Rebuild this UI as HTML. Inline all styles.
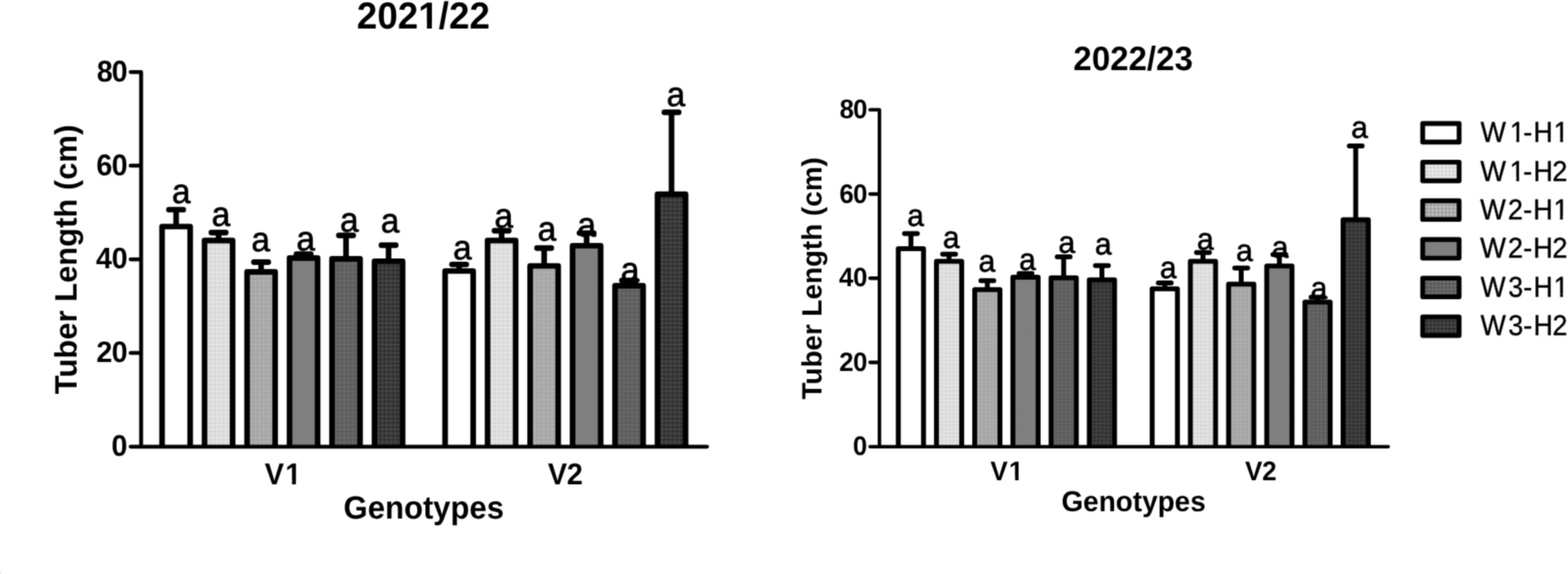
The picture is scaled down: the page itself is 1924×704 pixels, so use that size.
<!DOCTYPE html>
<html lang="en">
<head>
<meta charset="utf-8">
<title>Tuber Length by Genotype</title>
<style>
html,body{margin:0;padding:0;background:#fff;}
body{width:1924px;height:704px;overflow:hidden;}
svg{display:block;}
text{font-family:"Liberation Sans", Arial, Helvetica, sans-serif;fill:#000;text-rendering:geometricPrecision;}
</style>
</head>
<body>
<svg width="1924" height="704" viewBox="0 0 1924 704">
<defs>
<filter id="soft" x="0" y="0" width="1924" height="704" filterUnits="userSpaceOnUse" color-interpolation-filters="sRGB"><feConvolveMatrix order="3" kernelMatrix="0.0400 0.1200 0.0400 0.1200 0.3600 0.1200 0.0400 0.1200 0.0400" divisor="1" edgeMode="duplicate" preserveAlpha="false"/></filter>
<pattern id="p1" width="5.2" height="5.2" patternUnits="userSpaceOnUse"><rect width="5.2" height="5.2" fill="#d6d6d6"/><path d="M0 1.3H5.2M1.3 0V5.2" stroke="#e8e8e8" stroke-width="1.3" fill="none"/></pattern>
<pattern id="p2" width="5.2" height="5.2" patternUnits="userSpaceOnUse"><rect width="5.2" height="5.2" fill="#a4a4a4"/><path d="M0 1.3H5.2M1.3 0V5.2" stroke="#b2b2b2" stroke-width="1.2" fill="none"/></pattern>
<pattern id="p3" width="5.2" height="5.2" patternUnits="userSpaceOnUse"><rect width="5.2" height="5.2" fill="#828282"/><rect width="2.6" height="2.6" fill="#7d7d7d"/><rect x="2.6" y="2.6" width="2.6" height="2.6" fill="#7d7d7d"/></pattern>
<pattern id="p4" width="5.2" height="5.2" patternUnits="userSpaceOnUse"><rect width="5.2" height="5.2" fill="#5a5a5a"/><path d="M0 1.3H5.2M1.3 0V5.2" stroke="#6c6c6c" stroke-width="1.2" fill="none"/></pattern>
<pattern id="p5" width="5.2" height="5.2" patternUnits="userSpaceOnUse"><rect width="5.2" height="5.2" fill="#2e2e2e"/><path d="M0 1.3H5.2M1.3 0V5.2" stroke="#4c4c4c" stroke-width="1.1" fill="none"/></pattern>
<pattern id="q1" width="4.6" height="4.6" patternUnits="userSpaceOnUse" patternTransform="translate(1748,0)"><rect width="4.6" height="4.6" fill="#d1d1d1"/><path d="M0 0.7H4.6M0.7 0V4.6" stroke="#ededed" stroke-width="1.4" fill="none"/></pattern>
<pattern id="q2" width="4.6" height="4.6" patternUnits="userSpaceOnUse" patternTransform="translate(1748,0)"><rect width="4.6" height="4.6" fill="#989898"/><path d="M0 0.7H4.6M0.7 0V4.6" stroke="#c2c2c2" stroke-width="1.4" fill="none"/></pattern>
<pattern id="q4" width="4.6" height="4.6" patternUnits="userSpaceOnUse" patternTransform="translate(1748,0)"><rect width="4.6" height="4.6" fill="#545454"/><path d="M0 0.7H4.6M0.7 0V4.6" stroke="#727272" stroke-width="1.3" fill="none"/></pattern>
<pattern id="q5" width="4.6" height="4.6" patternUnits="userSpaceOnUse" patternTransform="translate(1748,0)"><rect width="4.6" height="4.6" fill="#292929"/><path d="M0 0.7H4.6M0.7 0V4.6" stroke="#4e4e4e" stroke-width="1.2" fill="none"/></pattern>
</defs>
<g filter="url(#soft)">
<rect width="1924" height="704" fill="#fff"/>
<rect x="0" y="700.5" width="1.3" height="3.5" fill="#e6e6e6"/>
<g id="chart-left">
<text transform="translate(437.82,34.54) scale(0.9799,1)" font-size="46.13" font-weight="bold">2021/22</text>
<path transform="translate(437.82,34.54) scale(0.9799,1)" d="M78.65 -6.57H87.78v8.67H78.65zM94.01 -6.57H102.54v8.67H94.01z" fill="#fff"/>
<text transform="translate(93.89,483.48) rotate(-90) scale(0.9961,1)" font-size="38.13" font-weight="bold">Tuber Length (cm)</text>
<text transform="translate(421.58,635.67) scale(0.9675,1)" font-size="39.39" font-weight="bold">Genotypes</text>
<text transform="translate(0,594.00) scale(0.9616,1)" x="337.60 363.91" y="0" font-size="36.96" font-weight="bold">V1</text>
<path transform="translate(0,594.00) scale(0.9616,1)" d="M365.16 -5.33H372.60v7.43H365.16zM377.59 -5.33H384.54v7.43H377.59z" fill="#fff"/>
<text transform="translate(0,594.00) scale(0.9566,1)" x="702.68 727.13" y="0" font-size="36.96" font-weight="bold">V2</text>
<text transform="translate(0,559.03) scale(0.9612,1)" x="142.35" y="0" font-size="36.62" font-weight="bold">0</text>
<text transform="translate(0,444.14) scale(0.9687,1)" x="121.99 141.46" y="0" font-size="36.34" font-weight="bold">20</text>
<text transform="translate(0,329.44) scale(0.9687,1)" x="121.67 141.46" y="0" font-size="36.34" font-weight="bold">40</text>
<text transform="translate(0,215.03) scale(0.9575,1)" x="123.63 143.11" y="0" font-size="36.76" font-weight="bold">60</text>
<text transform="translate(0,99.73) scale(0.9575,1)" x="123.94 143.16" y="0" font-size="36.76" font-weight="bold">80</text>
<path d="M216.10 277.83V257.15M207.30 257.15H224.90" stroke="#000" stroke-width="6.9" stroke-linecap="round" fill="none"/>
<path d="M198.88 547.8V277.83H233.32V547.8" fill="#ffffff" stroke="#000" stroke-width="6.9" stroke-linejoin="round"/>
<text transform="translate(211.06,249.18) scale(0.9796,1)" font-size="41.83" stroke="#000" stroke-width="0.8" stroke-linejoin="round">a</text>
<path d="M268.20 295.06V285.30M259.40 285.30H277.00" stroke="#000" stroke-width="6.9" stroke-linecap="round" fill="none"/>
<path d="M250.97 547.8V295.06H285.43V547.8" fill="url(#p1)" stroke="#000" stroke-width="6.9" stroke-linejoin="round"/>
<text transform="translate(259.86,276.68) scale(0.9796,1)" font-size="41.83" stroke="#000" stroke-width="0.8" stroke-linejoin="round">a</text>
<path d="M320.40 333.55V321.49M311.60 321.49H329.20" stroke="#000" stroke-width="6.9" stroke-linecap="round" fill="none"/>
<path d="M303.17 547.8V333.55H337.62V547.8" fill="url(#p2)" stroke="#000" stroke-width="6.9" stroke-linejoin="round"/>
<text transform="translate(308.56,308.43) scale(0.9796,1)" font-size="41.83" stroke="#000" stroke-width="0.8" stroke-linejoin="round">a</text>
<path d="M372.50 316.55V311.72M363.70 311.72H381.30" stroke="#000" stroke-width="6.9" stroke-linecap="round" fill="none"/>
<path d="M355.27 547.8V316.55H389.73V547.8" fill="url(#p3)" stroke="#000" stroke-width="6.9" stroke-linejoin="round"/>
<text transform="translate(363.86,306.68) scale(0.9796,1)" font-size="41.83" stroke="#000" stroke-width="0.8" stroke-linejoin="round">a</text>
<path d="M424.60 317.47V288.75M415.80 288.75H433.40" stroke="#000" stroke-width="6.9" stroke-linecap="round" fill="none"/>
<path d="M407.38 547.8V317.47H441.83V547.8" fill="url(#p4)" stroke="#000" stroke-width="6.9" stroke-linejoin="round"/>
<text transform="translate(417.31,283.58) scale(0.9796,1)" font-size="41.83" stroke="#000" stroke-width="0.8" stroke-linejoin="round">a</text>
<path d="M476.80 320.34V300.81M468.00 300.81H485.60" stroke="#000" stroke-width="6.9" stroke-linecap="round" fill="none"/>
<path d="M459.57 547.8V320.34H494.03V547.8" fill="url(#p5)" stroke="#000" stroke-width="6.9" stroke-linejoin="round"/>
<text transform="translate(467.31,285.43) scale(0.9796,1)" font-size="41.83" stroke="#000" stroke-width="0.8" stroke-linejoin="round">a</text>
<path d="M563.40 332.40V324.36M554.60 324.36H572.20" stroke="#000" stroke-width="6.9" stroke-linecap="round" fill="none"/>
<path d="M546.17 547.8V332.40H580.62V547.8" fill="#ffffff" stroke="#000" stroke-width="6.9" stroke-linejoin="round"/>
<text transform="translate(556.06,317.93) scale(0.9796,1)" font-size="41.83" stroke="#000" stroke-width="0.8" stroke-linejoin="round">a</text>
<path d="M615.50 295.06V283.00M606.70 283.00H624.30" stroke="#000" stroke-width="6.9" stroke-linecap="round" fill="none"/>
<path d="M598.27 547.8V295.06H632.73V547.8" fill="url(#p1)" stroke="#000" stroke-width="6.9" stroke-linejoin="round"/>
<text transform="translate(606.66,278.58) scale(0.9796,1)" font-size="41.83" stroke="#000" stroke-width="0.8" stroke-linejoin="round">a</text>
<path d="M667.70 326.08V304.25M658.90 304.25H676.50" stroke="#000" stroke-width="6.9" stroke-linecap="round" fill="none"/>
<path d="M650.48 547.8V326.08H684.93V547.8" fill="url(#p2)" stroke="#000" stroke-width="6.9" stroke-linejoin="round"/>
<text transform="translate(659.81,294.78) scale(0.9796,1)" font-size="41.83" stroke="#000" stroke-width="0.8" stroke-linejoin="round">a</text>
<path d="M719.80 301.38V285.87M711.00 285.87H728.60" stroke="#000" stroke-width="6.9" stroke-linecap="round" fill="none"/>
<path d="M702.57 547.8V301.38H737.02V547.8" fill="url(#p3)" stroke="#000" stroke-width="6.9" stroke-linejoin="round"/>
<text transform="translate(708.56,290.43) scale(0.9796,1)" font-size="41.83" stroke="#000" stroke-width="0.8" stroke-linejoin="round">a</text>
<path d="M771.90 350.49V343.89M763.10 343.89H780.70" stroke="#000" stroke-width="6.9" stroke-linecap="round" fill="none"/>
<path d="M754.67 547.8V350.49H789.12V547.8" fill="url(#p4)" stroke="#000" stroke-width="6.9" stroke-linejoin="round"/>
<text transform="translate(761.66,345.28) scale(0.9796,1)" font-size="41.83" stroke="#000" stroke-width="0.8" stroke-linejoin="round">a</text>
<path d="M824.00 238.20V137.68M815.20 137.68H832.80" stroke="#000" stroke-width="6.9" stroke-linecap="round" fill="none"/>
<path d="M806.77 547.8V238.20H841.23V547.8" fill="url(#p5)" stroke="#000" stroke-width="6.9" stroke-linejoin="round"/>
<text transform="translate(817.96,130.43) scale(0.9796,1)" font-size="41.83" stroke="#000" stroke-width="0.8" stroke-linejoin="round">a</text>
<path d="M173.15 88.28V547.8M160.3 547.80H173.15M160.3 432.92H173.15M160.3 318.04H173.15M160.3 203.16H173.15M160.3 88.28H173.15M173.15 547.8H867.6" stroke="#000" stroke-width="4.8" stroke-linecap="round" stroke-linejoin="round" fill="none"/>
</g>
<g id="chart-right" transform="translate(923.468,55.328) scale(0.899)">
<text transform="translate(437.82,34.54) scale(0.9785,1)" font-size="46.13" font-weight="bold">2022/23</text>
<text transform="translate(93.89,483.48) rotate(-90) scale(0.9961,1)" font-size="38.13" font-weight="bold">Tuber Length (cm)</text>
<text transform="translate(421.58,635.67) scale(0.9675,1)" font-size="39.39" font-weight="bold">Genotypes</text>
<text transform="translate(0,594.00) scale(0.9616,1)" x="337.60 363.91" y="0" font-size="36.96" font-weight="bold">V1</text>
<path transform="translate(0,594.00) scale(0.9616,1)" d="M365.16 -5.33H372.60v7.43H365.16zM377.59 -5.33H384.54v7.43H377.59z" fill="#fff"/>
<text transform="translate(0,594.00) scale(0.9566,1)" x="702.68 727.13" y="0" font-size="36.96" font-weight="bold">V2</text>
<text transform="translate(0,559.03) scale(0.9612,1)" x="142.35" y="0" font-size="36.62" font-weight="bold">0</text>
<text transform="translate(0,444.14) scale(0.9687,1)" x="121.99 141.46" y="0" font-size="36.34" font-weight="bold">20</text>
<text transform="translate(0,329.44) scale(0.9687,1)" x="121.67 141.46" y="0" font-size="36.34" font-weight="bold">40</text>
<text transform="translate(0,215.03) scale(0.9575,1)" x="123.63 143.11" y="0" font-size="36.76" font-weight="bold">60</text>
<text transform="translate(0,99.73) scale(0.9575,1)" x="123.94 143.16" y="0" font-size="36.76" font-weight="bold">80</text>
<path d="M216.10 277.83V257.15M207.30 257.15H224.90" stroke="#000" stroke-width="6.7" stroke-linecap="round" fill="none"/>
<path d="M198.88 547.8V277.83H233.32V547.8" fill="#ffffff" stroke="#000" stroke-width="6.7" stroke-linejoin="round"/>
<text transform="translate(211.06,246.28) scale(0.9796,1)" font-size="41.83" stroke="#000" stroke-width="0.8" stroke-linejoin="round">a</text>
<path d="M268.20 295.06V285.30M259.40 285.30H277.00" stroke="#000" stroke-width="6.7" stroke-linecap="round" fill="none"/>
<path d="M250.97 547.8V295.06H285.43V547.8" fill="url(#p1)" stroke="#000" stroke-width="6.7" stroke-linejoin="round"/>
<text transform="translate(259.86,276.68) scale(0.9796,1)" font-size="41.83" stroke="#000" stroke-width="0.8" stroke-linejoin="round">a</text>
<path d="M320.40 333.55V321.49M311.60 321.49H329.20" stroke="#000" stroke-width="6.7" stroke-linecap="round" fill="none"/>
<path d="M303.17 547.8V333.55H337.62V547.8" fill="url(#p2)" stroke="#000" stroke-width="6.7" stroke-linejoin="round"/>
<text transform="translate(308.56,308.43) scale(0.9796,1)" font-size="41.83" stroke="#000" stroke-width="0.8" stroke-linejoin="round">a</text>
<path d="M372.50 316.55V311.72M363.70 311.72H381.30" stroke="#000" stroke-width="6.7" stroke-linecap="round" fill="none"/>
<path d="M355.27 547.8V316.55H389.73V547.8" fill="url(#p3)" stroke="#000" stroke-width="6.7" stroke-linejoin="round"/>
<text transform="translate(363.86,306.68) scale(0.9796,1)" font-size="41.83" stroke="#000" stroke-width="0.8" stroke-linejoin="round">a</text>
<path d="M424.60 317.47V288.75M415.80 288.75H433.40" stroke="#000" stroke-width="6.7" stroke-linecap="round" fill="none"/>
<path d="M407.38 547.8V317.47H441.83V547.8" fill="url(#p4)" stroke="#000" stroke-width="6.7" stroke-linejoin="round"/>
<text transform="translate(417.31,283.58) scale(0.9796,1)" font-size="41.83" stroke="#000" stroke-width="0.8" stroke-linejoin="round">a</text>
<path d="M476.80 320.34V300.81M468.00 300.81H485.60" stroke="#000" stroke-width="6.7" stroke-linecap="round" fill="none"/>
<path d="M459.57 547.8V320.34H494.03V547.8" fill="url(#p5)" stroke="#000" stroke-width="6.7" stroke-linejoin="round"/>
<text transform="translate(467.31,285.43) scale(0.9796,1)" font-size="41.83" stroke="#000" stroke-width="0.8" stroke-linejoin="round">a</text>
<path d="M562.60 332.40V324.36M553.80 324.36H571.40" stroke="#000" stroke-width="6.7" stroke-linecap="round" fill="none"/>
<path d="M545.38 547.8V332.40H579.83V547.8" fill="#ffffff" stroke="#000" stroke-width="6.7" stroke-linejoin="round"/>
<text transform="translate(556.06,317.93) scale(0.9796,1)" font-size="41.83" stroke="#000" stroke-width="0.8" stroke-linejoin="round">a</text>
<path d="M614.70 295.06V283.00M605.90 283.00H623.50" stroke="#000" stroke-width="6.7" stroke-linecap="round" fill="none"/>
<path d="M597.48 547.8V295.06H631.93V547.8" fill="url(#p1)" stroke="#000" stroke-width="6.7" stroke-linejoin="round"/>
<text transform="translate(606.66,278.58) scale(0.9796,1)" font-size="41.83" stroke="#000" stroke-width="0.8" stroke-linejoin="round">a</text>
<path d="M666.90 326.08V304.25M658.10 304.25H675.70" stroke="#000" stroke-width="6.7" stroke-linecap="round" fill="none"/>
<path d="M649.68 547.8V326.08H684.13V547.8" fill="url(#p2)" stroke="#000" stroke-width="6.7" stroke-linejoin="round"/>
<text transform="translate(659.81,294.78) scale(0.9796,1)" font-size="41.83" stroke="#000" stroke-width="0.8" stroke-linejoin="round">a</text>
<path d="M719.00 301.38V285.87M710.20 285.87H727.80" stroke="#000" stroke-width="6.7" stroke-linecap="round" fill="none"/>
<path d="M701.77 547.8V301.38H736.23V547.8" fill="url(#p3)" stroke="#000" stroke-width="6.7" stroke-linejoin="round"/>
<text transform="translate(708.56,290.43) scale(0.9796,1)" font-size="41.83" stroke="#000" stroke-width="0.8" stroke-linejoin="round">a</text>
<path d="M771.10 350.49V343.89M762.30 343.89H779.90" stroke="#000" stroke-width="6.7" stroke-linecap="round" fill="none"/>
<path d="M753.88 547.8V350.49H788.33V547.8" fill="url(#p4)" stroke="#000" stroke-width="6.7" stroke-linejoin="round"/>
<text transform="translate(761.66,345.28) scale(0.9796,1)" font-size="41.83" stroke="#000" stroke-width="0.8" stroke-linejoin="round">a</text>
<path d="M823.20 238.20V137.68M814.40 137.68H832.00" stroke="#000" stroke-width="6.7" stroke-linecap="round" fill="none"/>
<path d="M805.98 547.8V238.20H840.43V547.8" fill="url(#p5)" stroke="#000" stroke-width="6.7" stroke-linejoin="round"/>
<text transform="translate(817.16,126.08) scale(0.9796,1)" font-size="41.83" stroke="#000" stroke-width="0.8" stroke-linejoin="round">a</text>
<path d="M173.15 88.28V547.8M160.3 547.80H173.15M160.3 432.92H173.15M160.3 318.04H173.15M160.3 203.16H173.15M160.3 88.28H173.15M173.15 547.8H867.6" stroke="#000" stroke-width="4.8" stroke-linecap="round" stroke-linejoin="round" fill="none"/>
</g>
<g id="legend">
<rect x="1745.70" y="151.45" width="44.70" height="22.85" fill="#ffffff" stroke="#000" stroke-width="5.9" stroke-linejoin="round"/>
<text transform="translate(0,174.15) scale(0.9334,1)" x="1946.30 1984.85 2002.58 2015.89 2042.44" y="0" font-size="35.25" stroke="#000" stroke-width="0.5" stroke-linejoin="round">W1-H1</text>
<path transform="translate(0,174.15) scale(0.9334,1)" d="M1986.10 -4.43H1993.40v6.78H1986.10zM1997.11 -4.43H2004.05v6.78H1997.11zM2043.69 -4.43H2050.99v6.78H2043.69zM2054.69 -4.43H2061.64v6.78H2054.69z" fill="#fff"/>
<rect x="1745.70" y="198.88" width="44.70" height="22.85" fill="url(#q1)" stroke="#000" stroke-width="5.9" stroke-linejoin="round"/>
<text transform="translate(0,221.58) scale(0.9428,1)" x="1926.67 1964.88 1982.50 1995.60 2020.39" y="0" font-size="35.25" stroke="#000" stroke-width="0.5" stroke-linejoin="round">W1-H2</text>
<path transform="translate(0,221.58) scale(0.9428,1)" d="M1966.13 -4.43H1973.43v6.78H1966.13zM1977.14 -4.43H1984.08v6.78H1977.14z" fill="#fff"/>
<rect x="1745.70" y="246.31" width="44.70" height="22.85" fill="url(#q2)" stroke="#000" stroke-width="5.9" stroke-linejoin="round"/>
<text transform="translate(0,269.01) scale(0.9434,1)" x="1925.34 1961.36 1981.14 1994.23 2020.50" y="0" font-size="35.25" stroke="#000" stroke-width="0.5" stroke-linejoin="round">W2-H1</text>
<path transform="translate(0,269.01) scale(0.9434,1)" d="M2021.75 -4.43H2029.05v6.78H2021.75zM2032.75 -4.43H2039.70v6.78H2032.75z" fill="#fff"/>
<rect x="1745.70" y="293.74" width="44.70" height="22.85" fill="url(#p3)" stroke="#000" stroke-width="5.9" stroke-linejoin="round"/>
<text transform="translate(0,316.44) scale(0.9495,1)" x="1912.91 1948.74 1968.42 1981.38 2006.01" y="0" font-size="35.25" stroke="#000" stroke-width="0.5" stroke-linejoin="round">W2-H2</text>
<rect x="1745.70" y="341.17" width="44.70" height="22.85" fill="url(#q4)" stroke="#000" stroke-width="5.9" stroke-linejoin="round"/>
<text transform="translate(0,363.87) scale(0.9210,1)" x="1972.67 2009.47 2029.57 2043.14 2070.04" y="0" font-size="35.25" stroke="#000" stroke-width="0.5" stroke-linejoin="round">W3-H1</text>
<path transform="translate(0,363.87) scale(0.9210,1)" d="M2071.29 -4.43H2078.59v6.78H2071.29zM2082.30 -4.43H2089.25v6.78H2082.30z" fill="#fff"/>
<rect x="1745.70" y="388.60" width="44.70" height="22.85" fill="url(#q5)" stroke="#000" stroke-width="5.9" stroke-linejoin="round"/>
<text transform="translate(0,411.30) scale(0.9309,1)" x="1951.56 1988.04 2007.97 2021.33 2046.40" y="0" font-size="35.25" stroke="#000" stroke-width="0.5" stroke-linejoin="round">W3-H2</text>
</g>
</g>
</svg>
</body>
</html>
